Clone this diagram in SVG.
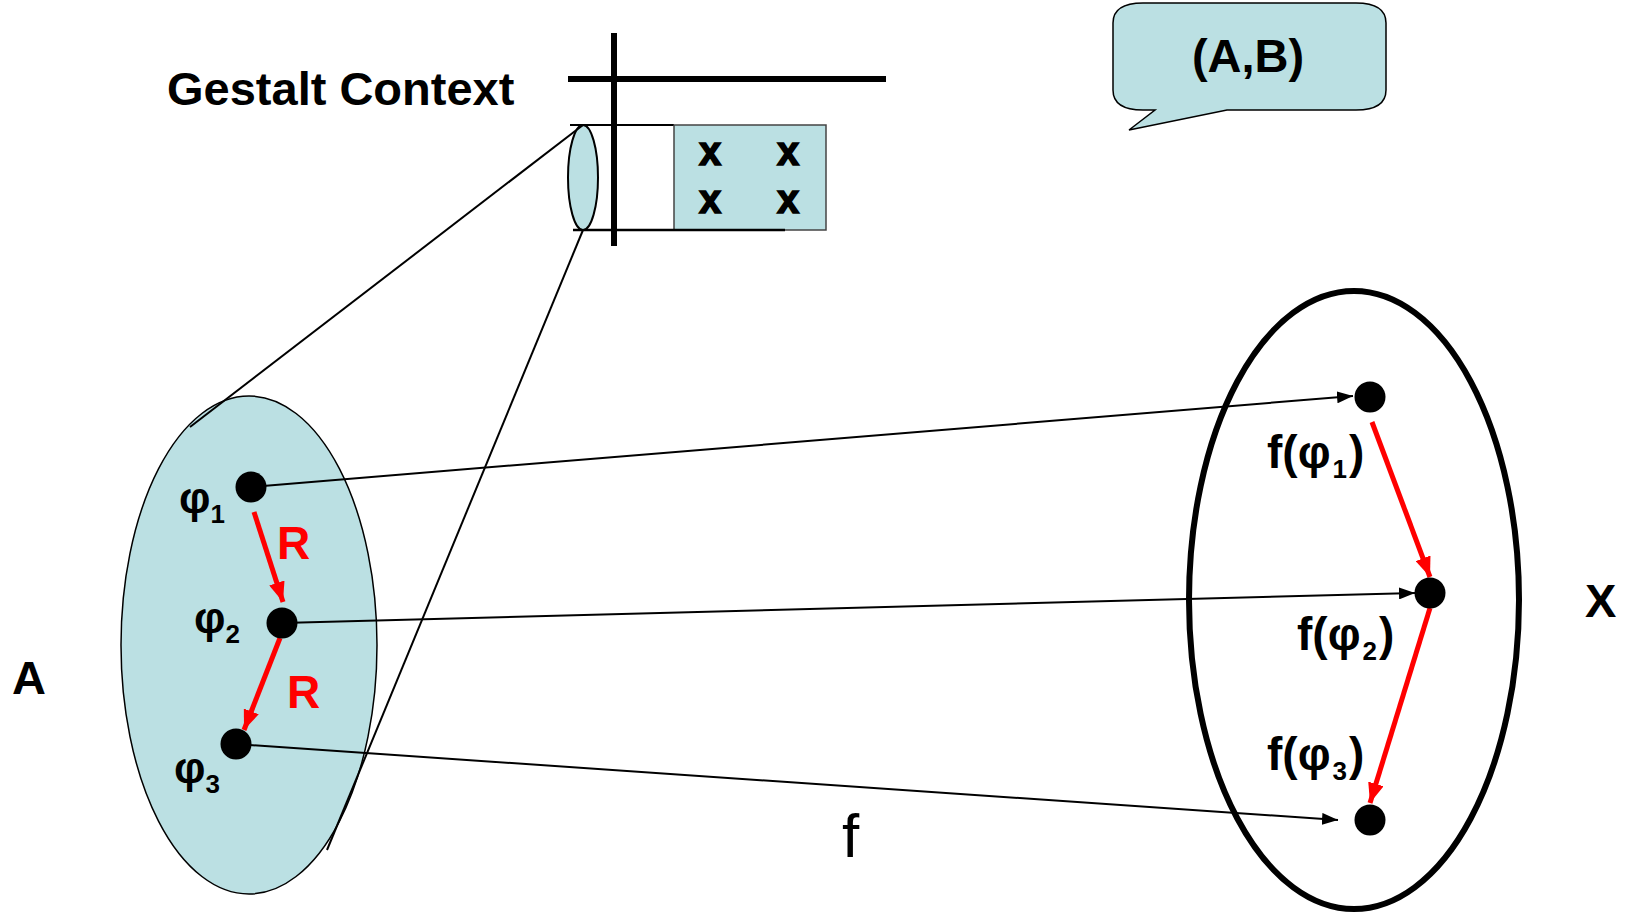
<svg xmlns="http://www.w3.org/2000/svg" width="1630" height="914" viewBox="0 0 1630 914">
<defs>
<style>
.t{font-family:"Liberation Sans",Arial,sans-serif;font-weight:bold;fill:#000}
.red{fill:#FF0000}
.blue{fill:#BBE0E3}
.dot{fill:#000}
.conn{stroke:#000;stroke-width:2;fill:none}
.rconn{stroke:#FF0000;stroke-width:5;fill:none}
.xm{stroke:#000;stroke-width:1.5}
</style>
<marker id="ah" markerWidth="16" markerHeight="12" refX="16" refY="6" orient="auto" markerUnits="userSpaceOnUse">
<path d="M0,0 L16,6 L0,12 Z" fill="#000"/>
</marker>
<marker id="rah" markerWidth="20" markerHeight="16" refX="20" refY="8" orient="auto" markerUnits="userSpaceOnUse">
<path d="M0,0 L20,8 L0,16 Z" fill="#FF0000"/>
</marker>
</defs>
<rect width="1630" height="914" fill="#fff"/>

<g id="set-A">
<ellipse cx="249" cy="645" rx="128" ry="249" class="blue" stroke="#000" stroke-width="1.5"/>
</g>

<g id="set-X">
<ellipse cx="1354" cy="600" rx="165" ry="309" fill="none" stroke="#000" stroke-width="6"/>
</g>

<g id="gestalt-context">
<text class="t" x="167" y="105" font-size="47">Gestalt Context</text>
<line x1="568" y1="79" x2="886" y2="79" stroke="#000" stroke-width="6"/>
<line x1="570" y1="125" x2="674" y2="125" stroke="#000" stroke-width="2"/>
<rect x="674" y="125" width="152" height="105" class="blue" stroke="#444" stroke-width="1.5"/>
<line x1="573" y1="230" x2="785" y2="230" stroke="#000" stroke-width="2.5"/>
<ellipse cx="583" cy="177.5" rx="15" ry="52.5" class="blue" stroke="#000" stroke-width="2"/>
<line x1="614" y1="33" x2="614" y2="246" stroke="#000" stroke-width="6"/>
<text class="t xm" x="710" y="165" font-size="40" text-anchor="middle">x</text>
<text class="t xm" x="788" y="165" font-size="40" text-anchor="middle">x</text>
<text class="t xm" x="710" y="213" font-size="40" text-anchor="middle">x</text>
<text class="t xm" x="788" y="213" font-size="40" text-anchor="middle">x</text>
</g>

<g id="callout-AB">
<path d="M1143,3 H1356 Q1386,3 1386,23 V90 Q1386,110 1356,110 H1227 L1129,130 L1155,110 H1143 Q1113,110 1113,90 V23 Q1113,3 1143,3 Z" class="blue" stroke="#000" stroke-width="1.5"/>
<text class="t" x="1248" y="72" font-size="47" text-anchor="middle">(A,B)</text>
</g>

<g id="connectors">
<line class="conn" x1="583" y1="125" x2="190" y2="427" stroke-width="1.5"/>
<line class="conn" x1="583" y1="230" x2="327" y2="850" stroke-width="1.5"/>
<line class="conn" x1="251" y1="487" x2="1353" y2="396" marker-end="url(#ah)"/>
<line class="conn" x1="282" y1="623" x2="1415" y2="593" marker-end="url(#ah)"/>
<line class="conn" x1="236" y1="744" x2="1338" y2="820" marker-end="url(#ah)"/>
<line class="rconn" x1="254" y1="512" x2="283" y2="602" marker-end="url(#rah)"/>
<line class="rconn" x1="280" y1="638" x2="244" y2="730" marker-end="url(#rah)"/>
<line class="rconn" x1="1372" y1="422" x2="1430" y2="577" marker-end="url(#rah)"/>
<line class="rconn" x1="1430" y1="608" x2="1370" y2="803" marker-end="url(#rah)"/>
</g>

<g id="phi1">
<circle class="dot" cx="251" cy="487" r="15.5"/>
<text class="t" x="179" y="513" font-size="44">φ<tspan font-size="26" dy="10">1</tspan></text>
</g>
<g id="phi2">
<circle class="dot" cx="282" cy="623" r="15.5"/>
<text class="t" x="194" y="633" font-size="44">φ<tspan font-size="26" dy="10">2</tspan></text>
</g>
<g id="phi3">
<circle class="dot" cx="236" cy="744" r="15.5"/>
<text class="t" x="174" y="783" font-size="44">φ<tspan font-size="26" dy="10">3</tspan></text>
</g>
<g id="R-labels">
<text class="t red" x="277" y="559" font-size="46">R</text>
<text class="t red" x="287" y="708" font-size="46">R</text>
</g>

<g id="fphi1">
<circle class="dot" cx="1370" cy="397" r="15.5"/>
<text class="t" x="1267" y="468" font-size="46">f(φ<tspan font-size="26" dy="10" dx="2">1</tspan><tspan dy="-10" dx="2">)</tspan></text>
</g>
<g id="fphi2">
<circle class="dot" cx="1430" cy="593" r="15.5"/>
<text class="t" x="1297" y="650" font-size="46">f(φ<tspan font-size="26" dy="10" dx="2">2</tspan><tspan dy="-10" dx="2">)</tspan></text>
</g>
<g id="fphi3">
<circle class="dot" cx="1370" cy="820" r="15.5"/>
<text class="t" x="1267" y="770" font-size="46">f(φ<tspan font-size="26" dy="10" dx="2">3</tspan><tspan dy="-10" dx="2">)</tspan></text>
</g>

<g id="labels">
<text class="t" x="12" y="694" font-size="47">A</text>
<text class="t" x="1585" y="617" font-size="47">X</text>
<text x="842" y="857" font-size="62" font-family="Liberation Sans, Arial, sans-serif" fill="#000">f</text>
</g>
</svg>
